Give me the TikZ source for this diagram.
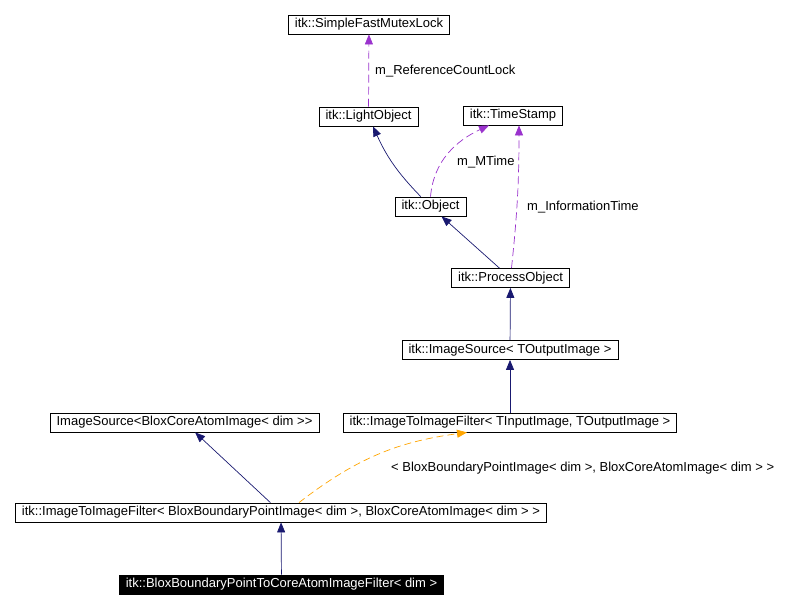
\documentclass[tikz,border=0pt]{standalone}
\usepackage{fontspec}
\setmainfont{Liberation Sans}
\usetikzlibrary{arrows.meta}
\definecolor{navyedge}{RGB}{25,25,112}
\definecolor{orchidedge}{RGB}{154,50,205}
\definecolor{orangeedge}{RGB}{255,165,0}

\begin{document}
\begin{tikzpicture}[x=1pt, y=1pt, >={Triangle[length=10pt,width=8pt]}, font=\fontsize{13}{16}\selectfont,
  cls/.style={draw, line width=0.8pt, inner xsep=6.5pt, inner ysep=0pt, minimum height=19pt},
  inherit/.style={->, draw=navyedge, line width=0.7pt},
  usage/.style={->, draw=orchidedge, line width=0.7pt, dash pattern=on 8pt off 4pt},
  tmpl/.style={->, draw=orangeedge, line width=0.7pt, dash pattern=on 7pt off 4pt},
  lbl/.style={anchor=west, inner sep=0pt}]
	\useasboundingbox (0,0) rectangle (792,-609);
	
	% 1. 类节点
	\node[cls] (mutex) at (369,-24.5) {itk::SimpleFastMutexLock};
	\node[cls] (light) at (368.5,-116.5) {itk::LightObject};
	\node[cls] (timestamp) at (513,-115.5) {itk::TimeStamp};
	\node[cls] (object) at (430.5,-206.5) {itk::Object};
	\node[cls] (process) at (510.5,-278) {itk::ProcessObject};
	\node[cls] (isrc) at (510,-350) {itk::ImageSource< TOutputImage >};
	\node[cls] (itoi) at (510,-422.5) {itk::ImageToImageFilter< TInputImage, TOutputImage >};
	\node[cls] (isrcblox) at (184.5,-422.5) {ImageSource<BloxCoreAtomImage< dim >{}>};
	\node[cls] (itoiblox) at (281,-512.5) {itk::ImageToImageFilter< BloxBoundaryPointImage< dim >, BloxCoreAtomImage< dim > >};
	\node[cls, fill=black, text=white] (final) at (281.5,-584.5) {itk::BloxBoundaryPointToCoreAtomImageFilter< dim >};
	
	% 2. 成员关系 (虚线)
	\draw[usage] (light) -- (mutex);
	\draw[usage] (object.north) to[out=85, in=205] ([xshift=-24pt]timestamp.south);
	\draw[usage] ([xshift=1pt]process.north) to[bend right=3] ([xshift=6pt]timestamp.south);
	\node[lbl] (lockname) at (375,-71) {m\_ReferenceCountLock};
	\node[lbl] (mtimename) at (457,-162) {m\_MTime};
	\node[lbl] (infoname) at (527,-207) {m\_InformationTime};
	
	% 3. 继承关系
	\draw[inherit] (object) to[bend left=10] (light);
	\draw[inherit] (process) -- (object);
	\draw[inherit] (isrc) -- (process);
	\draw[inherit] (itoi) -- (isrc);
	\draw[inherit] (itoiblox) -- (isrcblox);
	\draw[inherit] (final) -- (itoiblox);
	
	% 4. 模板实例化
	\draw[tmpl] ([xshift=18pt]itoiblox.north) to[bend left=15] ([xshift=-43pt]itoi.south);
	\node[lbl] (argsname) at (391,-468) {< BloxBoundaryPointImage< dim >, BloxCoreAtomImage< dim > >};
\end{tikzpicture}
\end{document}
